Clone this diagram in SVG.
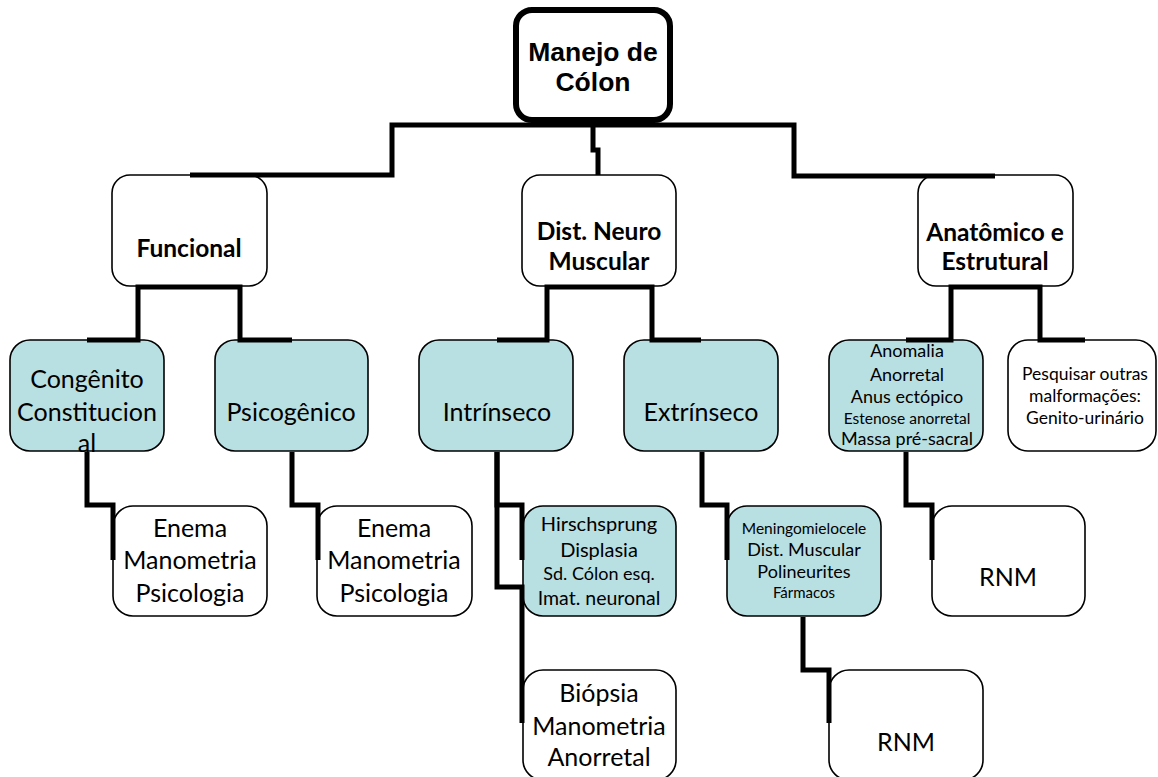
<svg xmlns="http://www.w3.org/2000/svg" width="1158" height="777" viewBox="0 0 1158 777">
<style>
.bg{fill:#ffffff}
.w{fill:#ffffff;stroke:#000;stroke-width:1.6}
.t{fill:#b8dfe2;stroke:#000;stroke-width:1.6}
.root{fill:#ffffff;stroke:#000;stroke-width:6}
.c{fill:none;stroke:#000;stroke-width:5;stroke-linejoin:miter;stroke-linecap:butt}
text{font-family:Lato,"Open Sans","Liberation Sans",sans-serif;fill:#000;text-anchor:middle}
.b{font-weight:bold}
.rt{font-family:"Liberation Sans",Arial,sans-serif;font-weight:bold;font-size:26.5px}
</style>
<rect class="bg" x="0" y="0" width="1158" height="777"/>

<g id="n-root">
<rect class="root" x="516" y="10" width="154" height="110" rx="16"/>
<text class="rt" x="593" y="61">Manejo de</text>
<text class="rt" x="593" y="91">Cólon</text>
</g>

<g id="n-funcional">
<rect class="w" x="112" y="175" width="155" height="111" rx="18"/>
<text class="b" x="189" y="257" font-size="24.5">Funcional</text>
</g>
<g id="n-neuro">
<rect class="w" x="522" y="175" width="154" height="111" rx="18"/>
<text class="b" x="599" y="240" font-size="24.5">Dist. Neuro</text>
<text class="b" x="599" y="270" font-size="24.5">Muscular</text>
</g>
<g id="n-anatomico">
<rect class="w" x="918" y="175" width="155" height="111" rx="18"/>
<text class="b" x="995" y="241" font-size="24.5">Anatômico e</text>
<text class="b" x="995" y="270" font-size="24.5">Estrutural</text>
</g>

<g id="n-congenito">
<rect class="t" x="10" y="340" width="154" height="111" rx="20"/>
<text x="87" y="388" font-size="25">Congênito</text>
<text x="87" y="421" font-size="25">Constitucion</text>
<text x="87" y="452" font-size="25">al</text>
</g>
<g id="n-psicogenico">
<rect class="t" x="215" y="340" width="153" height="111" rx="20"/>
<text x="291" y="421" font-size="25">Psicogênico</text>
</g>
<g id="n-intrinseco">
<rect class="t" x="419" y="340" width="154" height="111" rx="20"/>
<text x="497" y="421" font-size="25">Intrínseco</text>
</g>
<g id="n-extrinseco">
<rect class="t" x="624" y="340" width="154" height="111" rx="20"/>
<text x="701" y="421" font-size="25">Extrínseco</text>
</g>
<g id="n-anomalia">
<rect class="t" x="829" y="340" width="154" height="111" rx="20"/>
<text x="907" y="357" font-size="18">Anomalia</text>
<text x="907" y="381" font-size="18">Anorretal</text>
<text x="907" y="403" font-size="18">Anus ectópico</text>
<text x="907" y="424" font-size="15.5">Estenose anorretal</text>
<text x="907" y="445" font-size="18">Massa pré-sacral</text>
</g>
<g id="n-pesquisar">
<rect class="w" x="1008" y="340" width="148" height="111" rx="20"/>
<text x="1085" y="380" font-size="17.5">Pesquisar outras</text>
<text x="1085" y="402" font-size="17.5">malformações:</text>
<text x="1085" y="424" font-size="17.5">Genito-urinário</text>
</g>

<g id="n-enema1">
<rect class="w" x="113" y="506" width="154" height="110" rx="20"/>
<text x="190" y="537" font-size="25">Enema</text>
<text x="190" y="569" font-size="25">Manometria</text>
<text x="190" y="602" font-size="25">Psicologia</text>
</g>
<g id="n-enema2">
<rect class="w" x="317" y="506" width="155" height="110" rx="20"/>
<text x="394" y="537" font-size="25">Enema</text>
<text x="394" y="569" font-size="25">Manometria</text>
<text x="394" y="602" font-size="25">Psicologia</text>
</g>
<g id="n-hirschsprung">
<rect class="t" x="523" y="506" width="153" height="110" rx="20"/>
<text x="599" y="531" font-size="20">Hirschsprung</text>
<text x="599" y="557" font-size="20">Displasia</text>
<text x="599" y="580" font-size="18">Sd. Cólon esq.</text>
<text x="599" y="605" font-size="19.5">Imat. neuronal</text>
</g>
<g id="n-meningo">
<rect class="t" x="727" y="506" width="154" height="110" rx="20"/>
<text x="804" y="534" font-size="15.5">Meningomielocele</text>
<text x="804" y="556" font-size="18">Dist. Muscular</text>
<text x="804" y="578" font-size="18">Polineurites</text>
<text x="804" y="598" font-size="15">Fármacos</text>
</g>
<g id="n-rnm1">
<rect class="w" x="932" y="506" width="153" height="110" rx="20"/>
<text x="1008" y="586" font-size="25">RNM</text>
</g>
<g id="n-biopsia">
<rect class="w" x="523" y="670" width="153" height="110" rx="20"/>
<text x="599" y="702" font-size="25">Biópsia</text>
<text x="599" y="735" font-size="25">Manometria</text>
<text x="599" y="766" font-size="25">Anorretal</text>
</g>
<g id="n-rnm2">
<rect class="w" x="829" y="670" width="154" height="110" rx="20"/>
<text x="906" y="751" font-size="25">RNM</text>
</g>

<g id="connectors">
<path class="c" d="M593,123 V150 H598 V175"/>
<path class="c" d="M593,125 H392 V175 H190"/>
<path class="c" d="M593,125 H794 V176 H995"/>
<path class="c" d="M190,287 H138 V340 H87"/>
<path class="c" d="M190,287 H240 V340 H292"/>
<path class="c" d="M599,287 H547 V340 H497"/>
<path class="c" d="M599,287 H652 V340 H701"/>
<path class="c" d="M995,287 H951 V340 H906"/>
<path class="c" d="M995,287 H1040 V340 H1085"/>
<path class="c" d="M87,452 V505 H113 V560"/>
<path class="c" d="M292,452 V505 H318 V560"/>
<path class="c" d="M497,452 V505 H522 V560"/>
<path class="c" d="M497,452 V587 H522 V723"/>
<path class="c" d="M702,452 V505 H727 V560"/>
<path class="c" d="M906,452 V505 H932 V560"/>
<path class="c" d="M803,617 V670 H829 V723"/>
</g>
</svg>
